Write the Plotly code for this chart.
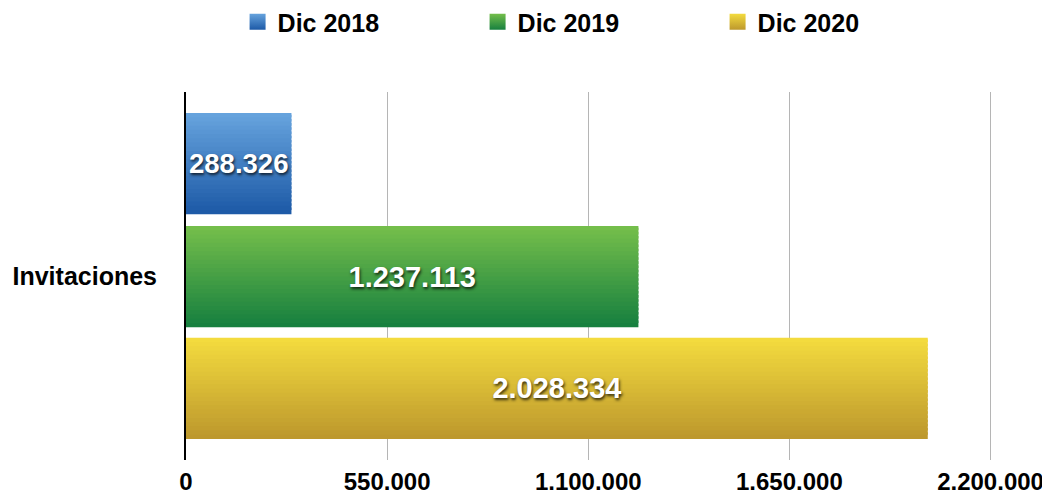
import plotly.graph_objects as go

# ---- data ----
categories = ["Invitaciones"]
series_names = ["Dic 2018", "Dic 2019", "Dic 2020"]
values = [288326, 1237113, 2028334]
tick_values = [0, 550000, 1100000, 1650000, 2200000]

# ---- style ----
top_colors = ["#66a3dd", "#74be4b", "#f3db3e"]
bottom_colors = ["#1d5aa7", "#17803f", "#bd982d"]
bar_bottoms = [0.168, -0.139, -0.443]   # offsets along the category axis
bar_width = 0.275
N_STRIPES = 24

FONT = "Liberation Sans, Arial, Helvetica, sans-serif"

# the page body has an 8px default margin, so the figure is 8px smaller
W, H = 1042, 490


def hex_to_rgb(h):
    h = h.lstrip("#")
    return tuple(int(h[i:i + 2], 16) for i in (0, 2, 4))


def lerp(c1, c2, t):
    a, b = hex_to_rgb(c1), hex_to_rgb(c2)
    return "rgb(%d,%d,%d)" % tuple(round(a[k] + (b[k] - a[k]) * t) for k in range(3))


fig = go.Figure()

# gradient bars built from overlapping horizontal stripes of the same bar
for i, (name, v) in enumerate(zip(series_names, values)):
    sw = bar_width / N_STRIPES
    for j in range(N_STRIPES):
        t = j / (N_STRIPES - 1)
        fig.add_trace(go.Bar(
            y=categories, x=[v], orientation="h",
            offset=bar_bottoms[i] + j * sw,
            width=sw * (1.6 if j < N_STRIPES - 1 else 1.0),
            marker=dict(color=lerp(bottom_colors[i], top_colors[i], t), line=dict(width=0)),
            showlegend=False, hoverinfo="skip",
        ))

# value labels
for i, (name, v) in enumerate(zip(series_names, values)):
    fig.add_trace(go.Bar(
        y=categories, x=[v], orientation="h", name=name,
        offset=bar_bottoms[i], width=bar_width,
        marker=dict(color="rgba(0,0,0,0)", line=dict(width=0)),
        texttemplate="%{x:,}", textposition="inside", insidetextanchor="middle",
        textfont=dict(family=FONT, size=29, color="white", weight="bold",
                      shadow="1px 2px 3px rgba(0,0,0,0.75)"),
        showlegend=False, hovertemplate=name + ": %{x:,}<extra></extra>",
    ))

# legend entries
for i, name in enumerate(series_names):
    fig.add_trace(go.Scatter(
        x=[None], y=[None], mode="markers", name=name,
        marker=dict(symbol="square", size=16, color=top_colors[i],
                    gradient=dict(type="vertical", color=bottom_colors[i]),
                    line=dict(width=0)),
    ))

fig.update_layout(
    width=W, height=H,
    barmode="overlay",
    separators=",.",
    paper_bgcolor="white", plot_bgcolor="white",
    margin=dict(l=178, r=58, t=84, b=38),
    font=dict(family=FONT, size=25, color="black", weight="bold"),
    legend=dict(orientation="h", xref="paper", x=0.064, xanchor="left",
                yref="container", y=1 - 14 / H, yanchor="middle",
                entrywidth=195, entrywidthmode="pixels",
                font=dict(family=FONT, size=25, color="black", weight="bold"),
                bgcolor="rgba(0,0,0,0)"),
    xaxis=dict(range=[0, 2204000], tickvals=tick_values, tickformat=",",
               showgrid=True, gridcolor="#b5b5b5", gridwidth=1,
               zeroline=False, showline=False, ticks="", automargin=False,
               ticklabelstandoff=5, ticklabeloverflow="allow",
               tickfont=dict(family=FONT, size=24, color="black", weight="bold")),
    yaxis=dict(type="category", categoryarray=categories, range=[-0.5, 0.5],
               showline=True, linecolor="black", linewidth=2, ticks="",
               showgrid=False, ticklabelstandoff=22, automargin=False,
               tickfont=dict(family=FONT, size=25, color="black", weight="bold")),
)

fig.write_html("out.html")
